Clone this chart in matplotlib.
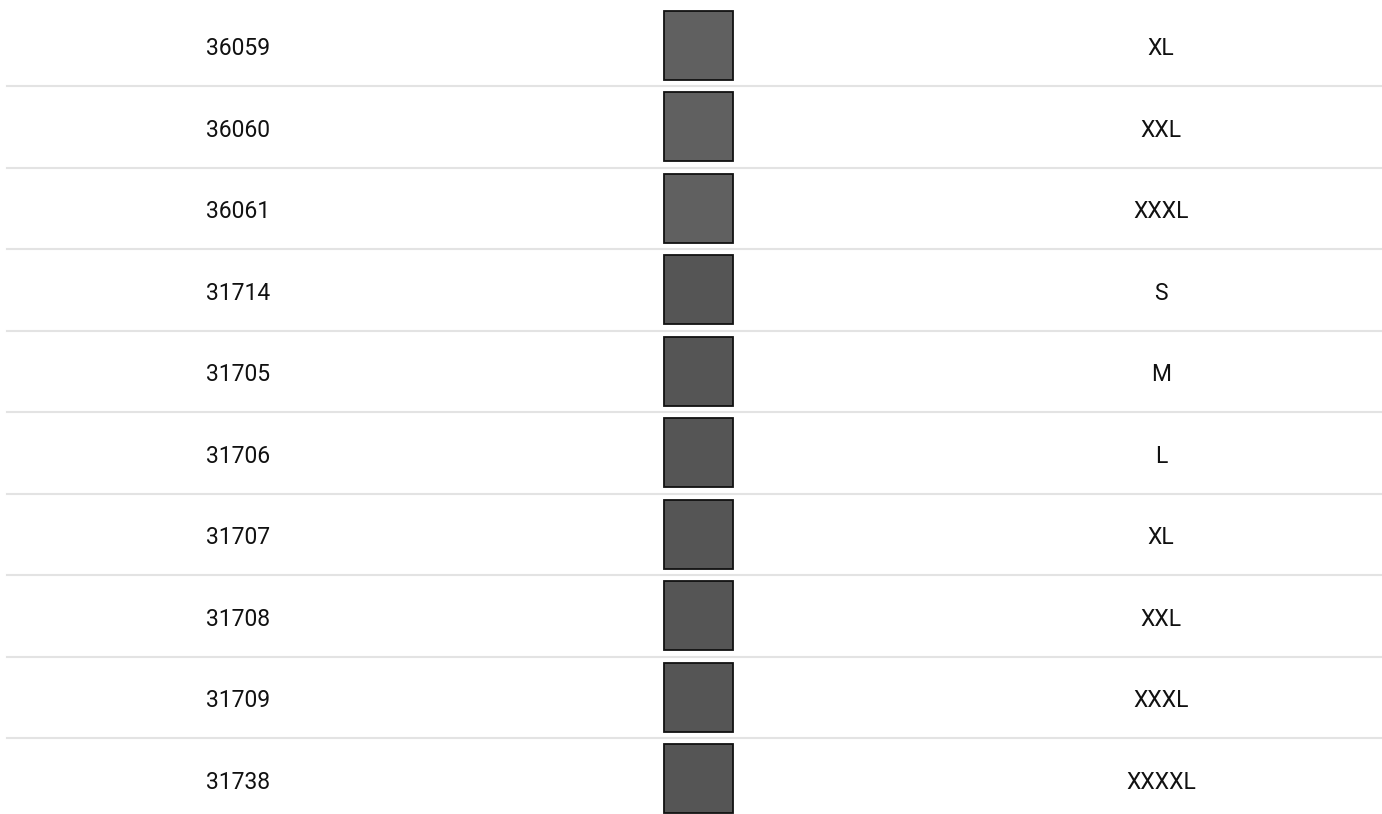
import matplotlib.pyplot as plt
from matplotlib.patches import Rectangle

# table content, top to bottom
item_ids = ["36059", "36060", "36061", "31714", "31705",
            "31706", "31707", "31708", "31709", "31738"]
swatch_colors = ["#606060", "#606060", "#606060", "#555555", "#555555",
                 "#555555", "#555555", "#555555", "#555555", "#555555"]
sizes = ["XL", "XXL", "XXXL", "S", "M", "L", "XL", "XXL", "XXXL", "XXXXL"]

W, H = 1382, 814
row_h = 81.5
top = 4.5

fig = plt.figure(figsize=(W / 100, H / 100), dpi=100)
ax = fig.add_axes([0, 0, 1, 1])
ax.set_xlim(0, W)
ax.set_ylim(H, 0)
ax.axis("off")

font = ["Roboto", "DejaVu Sans"]

for i, (iid, col, sz) in enumerate(zip(item_ids, swatch_colors, sizes)):
    yc = top + row_h * (i + 0.5)
    ax.text(238, yc + 1, iid, ha="center", va="center_baseline", fontsize=16.5,
            family=font, color="#111111")
    ax.text(1161, yc + 1, sz, ha="center", va="center_baseline", fontsize=16.5,
            family=font, color="#111111")
    ax.add_patch(Rectangle((664.5, yc - 34.5), 69, 69, facecolor=col,
                           edgecolor="#111111", linewidth=1.3))
    if i < len(item_ids) - 1:
        yl = top + row_h * (i + 1)
        ax.plot([7, W], [yl, yl], color="#e3e3e3", linewidth=1.5)

fig.savefig("out.png", dpi=100)
